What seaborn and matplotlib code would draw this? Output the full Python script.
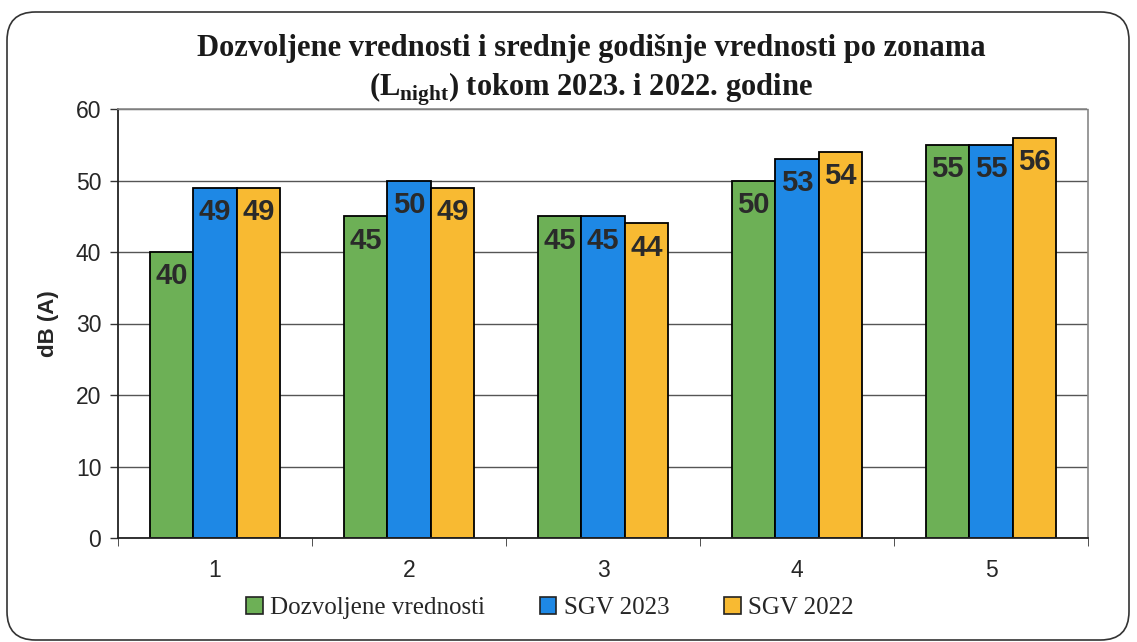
import matplotlib
matplotlib.use("Agg")
import matplotlib.pyplot as plt
import seaborn as sns
import pandas as pd
from matplotlib.patches import FancyBboxPatch, Patch

zones = ["1", "2", "3", "4", "5"]
dozvoljene = [40, 45, 45, 50, 55]
sgv_2023 = [49, 50, 45, 53, 55]
sgv_2022 = [49, 49, 44, 54, 56]
series_names = ["Dozvoljene vrednosti", "SGV 2023", "SGV 2022"]
colors = ["#6DB056", "#1E88E5", "#F8BA32"]
yticks = [0, 10, 20, 30, 40, 50, 60]

sns.set_style("white")
plt.rcParams["font.family"] = ["Liberation Sans", "DejaVu Sans"]
plt.rcParams["mathtext.fontset"] = "custom"
plt.rcParams["mathtext.rm"] = "Liberation Serif:bold"
plt.rcParams["mathtext.bf"] = "Liberation Serif:bold"

df = pd.DataFrame({
    "zona": zones * 3,
    "vrednost": dozvoljene + sgv_2023 + sgv_2022,
    "serija": [series_names[0]] * 5 + [series_names[1]] * 5 + [series_names[2]] * 5,
})

fig = plt.figure(figsize=(11.37, 6.42), dpi=100)
fig.patch.set_facecolor("white")
ax = fig.add_axes([118 / 1137, 1 - 538 / 642, (1088 - 118) / 1137, (538 - 109) / 642])

sns.barplot(data=df, x="zona", y="vrednost", hue="serija", hue_order=series_names,
            palette=colors, order=zones, width=0.67, gap=0, edgecolor="black",
            linewidth=1.3, saturation=1, ax=ax, legend=False)

for cont in ax.containers:
    for bar in cont:
        h = bar.get_height()
        ax.annotate(f"{h:.0f}", (bar.get_x() + bar.get_width() / 2, h),
                    xytext=(0, -7.5), textcoords="offset points",
                    ha="center", va="top", fontsize=21, fontweight="bold",
                    color="#2a2a2a")

ax.set_ylim(0, 60)
ax.set_xlim(-0.5, 4.5)
ax.set_yticks(yticks)
ax.set_yticklabels([str(t) for t in yticks], fontsize=16.5)
ax.tick_params(axis="x", labelsize=16.5, length=0, pad=15)
ax.tick_params(axis="y", length=6, direction="out", width=1, color="#333333", pad=6, left=True)
ax.set_xticks([-0.5, 0.5, 1.5, 2.5, 3.5, 4.5], minor=True)
ax.tick_params(axis="x", which="minor", length=6, direction="out", color="#333333", bottom=True)
ax.set_xlabel("")
ax.set_ylabel("dB (A)", fontsize=16, fontweight="bold", labelpad=12)
ax.yaxis.grid(True, color="#555555", linewidth=1)
ax.set_axisbelow(True)
for side in ["left", "bottom"]:
    ax.spines[side].set_color("#222222")
    ax.spines[side].set_linewidth(1.3)
for side in ["top", "right"]:
    ax.spines[side].set_visible(True)
    ax.spines[side].set_color("#888888")
    ax.spines[side].set_linewidth(1.2)
    ax.spines[side].set_linestyle((0, (2, 1)))

fig.text(591 / 1137, 1 - 71 / 642,
         "Dozvoljene vrednosti i srednje godišnje vrednosti po zonama\n"
         r"($\mathrm{L}_{\mathrm{night}}$) tokom 2023. i 2022. godine",
         ha="center", va="center", fontsize=22, fontweight="bold",
         family="Liberation Serif", color="#1a1a1a", linespacing=1.35)

handles = [Patch(facecolor=c, edgecolor="#222222", linewidth=1.2) for c in colors]
fig.legend(handles, series_names, loc="center", bbox_to_anchor=(550 / 1137, 1 - 608 / 642),
           ncol=3, frameon=False, prop={"family": "Liberation Serif", "size": 18},
           handlelength=0.65, handleheight=0.65, handletextpad=0.3, columnspacing=2.2)

border = FancyBboxPatch((7 / 1137, 2 / 642), 1122 / 1137, 628 / 642,
                        boxstyle="round,pad=0,rounding_size=0.025",
                        transform=fig.transFigure, facecolor="none",
                        edgecolor="#333333", linewidth=1.2, mutation_aspect=1137 / 642)
fig.patches.append(border)

fig.savefig("out.png", dpi=100)
